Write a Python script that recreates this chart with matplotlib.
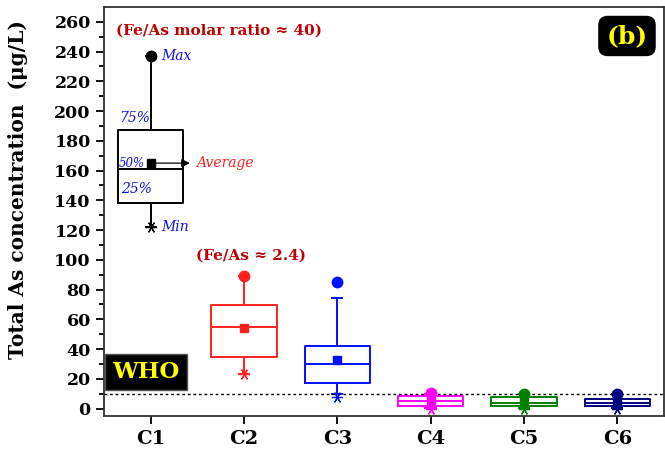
import matplotlib
matplotlib.use("Agg")
import matplotlib.pyplot as plt

# Box statistics for total As in each column (µg/L)
categories = ["C1", "C2", "C3", "C4", "C5", "C6"]
q1 = [138.5, 34.5, 17.0, 2.0, 1.6, 1.6]
median = [161.0, 54.5, 30.0, 5.0, 4.0, 3.5]
q3 = [187.5, 69.5, 42.0, 8.7, 7.8, 6.4]
whisker_low = [122.0, 23.0, 9.5, 0.5, 0.5, 0.5]
whisker_high = [237.0, 89.0, 74.0, 10.0, 9.5, 9.5]
mean = [165.0, 54.0, 32.5, 6.0, 5.0, 5.0]
maximum = [237.0, 89.0, 85.0, 10.5, 10.0, 10.0]
minimum = [122.0, 23.0, 7.5, -0.5, -0.5, -0.5]
colors = ["black", "#FF2020", "#0010FF", "#FF00FF", "#008000", "#000080"]
who_limit = 10.0
yticks = list(range(0, 261, 20))

fig = plt.figure(figsize=(6.65, 4.53), dpi=100)
ax = fig.add_axes([0.1564, 0.0817, 0.842, 0.903])

positions = list(range(1, len(categories) + 1))
for i, pos in enumerate(positions):
    stats = [dict(med=median[i], q1=q1[i], q3=q3[i], whislo=whisker_low[i],
                  whishi=whisker_high[i], mean=mean[i], fliers=[])]
    c = colors[i]
    ax.bxp(stats, positions=[pos], widths=0.7, showmeans=True, patch_artist=False,
           boxprops=dict(color=c, linewidth=1.4),
           medianprops=dict(color=c, linewidth=1.4),
           whiskerprops=dict(color=c, linewidth=1.4),
           capprops=dict(color=c, linewidth=1.4),
           capwidths=0.11,
           meanprops=dict(marker="s", markerfacecolor=c, markeredgecolor=c,
                          markersize=6))
    ax.plot(pos, maximum[i], marker="o", color=c, markersize=7.5, zorder=5)
    ax.plot(pos, minimum[i], marker=(6, 2, 90), color=c, markersize=8,
            markeredgewidth=0.9, linestyle="none", zorder=5)

# WHO guideline
ax.axhline(who_limit, color="black", linestyle=(0, (2, 2)), linewidth=1.0)

ax.set_xlim(0.5, 6.5)
ax.set_ylim(-5, 270)
ax.set_xticks(positions)
ax.set_xticklabels(categories, fontsize=14, fontweight="bold", family="DejaVu Serif")
ax.set_yticks(yticks)
ax.set_yticks(range(10, 270, 20), minor=True)
ax.set_yticklabels([str(v) for v in yticks], fontsize=12.5, fontweight="bold",
                   family="DejaVu Serif")
ax.tick_params(axis="both", which="major", direction="out", length=6, width=1.3)
ax.tick_params(axis="y", which="minor", direction="out", length=3.5, width=1.3)
ax.tick_params(axis="x", pad=4)
for s in ax.spines.values():
    s.set_linewidth(1.3)
    s.set_color("#333333")

ax.set_ylabel("Total As concentration  (\u03bcg/L)", fontsize=14.5, fontweight="bold",
              family="DejaVu Serif")
ax.yaxis.set_label_coords(-0.136, 0.553)

# Legend-style annotations on the C1 box
note = dict(family="DejaVu Serif", style="italic", fontsize=10)
ax.text(1.11, maximum[0], "Max", color="#1010E0", va="center", ha="left", **note)
ax.text(1.11, minimum[0], "Min", color="#1010E0", va="center", ha="left", **note)
ax.text(0.66, q3[0] + 3, "75%", color="#1010E0", va="bottom", ha="left", **note)
ax.text(0.66, mean[0] - 0.5, "50%", color="#1010E0", va="center", ha="left",
        family="DejaVu Serif", style="italic", fontsize=8.5)
ax.text(0.68, q1[0] + 9, "25%", color="#1010E0", va="center", ha="left", **note)
ax.annotate("", xy=(1.45, mean[0]), xytext=(1.0, mean[0]),
            arrowprops=dict(arrowstyle="-|>", color="black", lw=0.9,
                            mutation_scale=12))
ax.text(1.49, mean[0], "Average", color="#FF2020", va="center", ha="left", **note)

ax.text(0.63, 254, "(Fe/As molar ratio \u2248 40)", color="#C00000", fontsize=11,
        fontweight="bold", family="DejaVu Serif", va="center", ha="left")
ax.text(2.08, 103, "(Fe/As \u2248 2.4)", color="#C00000", fontsize=11,
        fontweight="bold", family="DejaVu Serif", va="center", ha="center")

ax.text(0.95, 24.5, "WHO", color="#FFFF00", fontsize=16.5, fontweight="bold",
        family="DejaVu Serif", va="center", ha="center",
        bbox=dict(boxstyle="square,pad=0.3", facecolor="black", edgecolor="#555555"))

ax.text(0.934, 0.929, "(b)", transform=ax.transAxes, color="#FFFF00", fontsize=18,
        fontweight="bold", family="DejaVu Serif", va="center", ha="center",
        bbox=dict(boxstyle="round,pad=0.3,rounding_size=0.35", facecolor="black",
                  edgecolor="black"))

fig.savefig("out.png", dpi=100)
